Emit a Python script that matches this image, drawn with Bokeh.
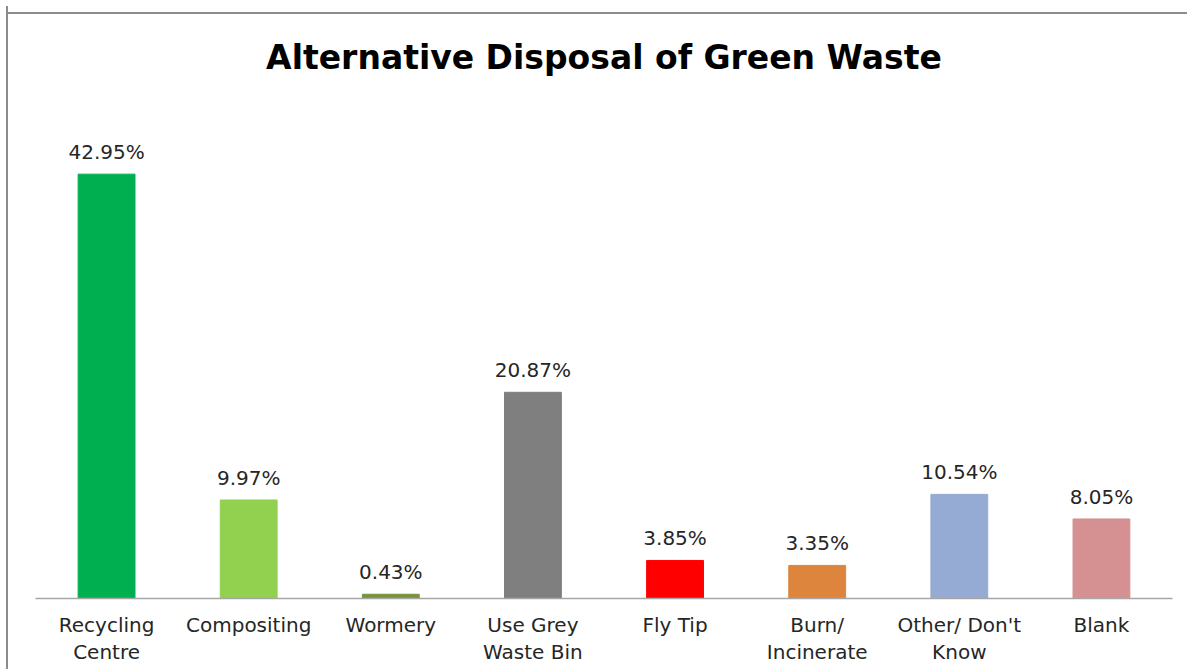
from bokeh.plotting import figure
from bokeh.models import ColumnDataSource, Range1d
from bokeh.core.properties import value
from bokeh.embed import file_html
from bokeh.resources import INLINE

categories = ["Recycling\nCentre", "Compositing", "Wormery", "Use Grey\nWaste Bin",
              "Fly Tip", "Burn/\nIncinerate", "Other/ Don't\nKnow", "Blank"]
values = [42.95, 9.97, 0.43, 20.87, 3.85, 3.35, 10.54, 8.05]
colors = ["#00B050", "#92D050", "#77933C", "#7F7F7F", "#FF0000", "#DD843D", "#95ABD3", "#D59091"]
labels = ["%.2f%%" % v for v in values]

src = ColumnDataSource(dict(cat=categories, val=values, color=colors, label=labels))

p = figure(x_range=categories, y_range=Range1d(0, 50), width=1181, height=663,
           output_backend="svg", toolbar_location=None,
           min_border_left=27, min_border_right=17, min_border_top=98, min_border_bottom=71)
p.border_fill_color = None
p.background_fill_color = None
p.styles = {"border-left": "2px solid #8c8c8c", "margin-top": "6px", "margin-left": "6px",
            "background": "linear-gradient(#8c8c8c, #8c8c8c) 0 6px / 100% 2px no-repeat, #ffffff"}

p.title.text = "Alternative Disposal of Green Waste"
p.title.align = "center"
p.title.text_font = "DejaVu Sans"
p.title.text_font_style = "bold"
p.title.text_font_size = "33px"
p.title.text_color = "#000000"
p.title.standoff = 56

p.vbar(x="cat", top="val", width=0.4, color="color", source=src)
p.text(x="cat", y="val", text="label", source=src, text_align="center",
       text_baseline="bottom", y_offset=-10, text_font=value("DejaVu Sans"),
       text_font_size="20px", text_color="#262626")

p.outline_line_color = None
p.xgrid.grid_line_color = None
p.ygrid.grid_line_color = None
p.yaxis.visible = False
p.xaxis.axis_line_color = "#A6A6A6"
p.xaxis.axis_line_width = 1.5
p.xaxis.major_tick_line_color = None
p.xaxis.minor_tick_line_color = None
p.xaxis.major_label_text_font = "DejaVu Sans"
p.xaxis.major_label_text_font_size = "20px"
p.xaxis.major_label_text_color = "#262626"
p.xaxis.major_label_text_line_height = 1.15
p.xaxis.major_label_standoff = 8
p.xaxis.major_label_orientation = "horizontal"

open("out.html", "w").write(file_html(p, INLINE))
